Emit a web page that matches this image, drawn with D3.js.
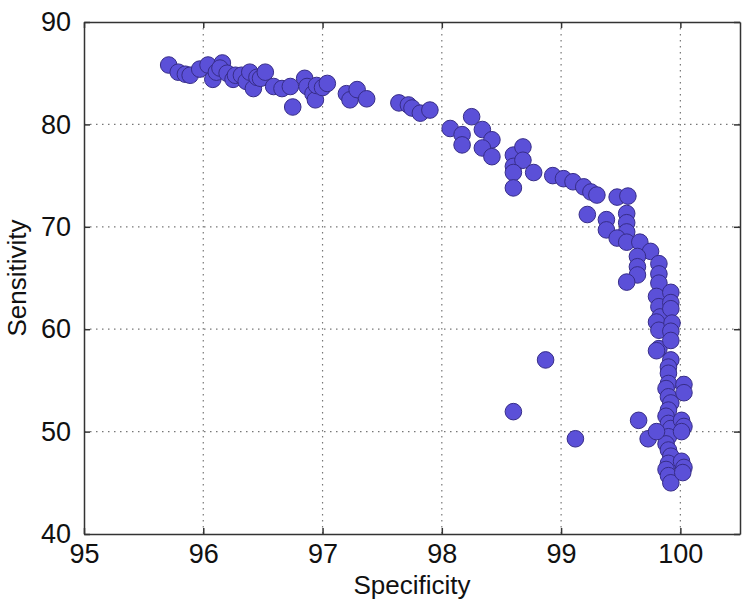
<!DOCTYPE html>
<html>
<head>
<meta charset="utf-8">
<script src="https://cdn.jsdelivr.net/npm/d3@7"></script>
<style>
  body { margin: 0; background: #fff; }
  text { font-family: "Liberation Sans", Arial, sans-serif; fill: #111; }
</style>
</head>
<body>
<svg id="chart"></svg>
<script>
// values
var specificity = [
  95.71, 95.79, 95.85, 95.89, 95.97, 96.04, 96.08, 96.11, 96.16, 96.14,
  96.20, 96.25, 96.27, 96.32, 96.36, 96.39, 96.42, 96.45, 96.48, 96.52,
  96.59, 96.66, 96.73, 96.75, 96.85, 96.87, 96.92, 96.94, 96.95, 97.00,
  97.04, 97.20, 97.23, 97.29, 97.37, 97.64, 97.72, 97.75, 97.82, 97.90,
  98.07, 98.17, 98.17, 98.25, 98.34, 98.42, 98.34, 98.42, 98.60, 98.68,
  98.60, 98.68, 98.60, 98.77, 98.60, 98.93, 99.02, 99.10, 99.19, 99.25,
  99.30, 99.22, 99.38, 99.38, 99.47, 99.56, 99.55, 99.55, 99.55, 99.47,
  99.55, 99.66, 99.75, 99.64, 99.64, 99.64, 99.55, 99.82, 99.82, 99.82,
  99.80, 99.82, 99.83, 99.80, 99.82, 99.82, 99.80, 99.92, 99.92, 99.92,
  99.93, 99.92, 99.92, 99.92, 99.90, 99.90, 99.90, 99.88, 99.90, 99.92,
  99.90, 99.88, 99.90, 99.92, 99.90, 99.88, 99.90, 99.92, 99.90, 99.88,
  99.90, 99.92, 100.03, 100.03, 100.01, 100.03, 100.01, 100.01, 100.03, 100.02,
  98.60, 98.87, 99.12, 99.65, 99.73, 99.80
];
var sensitivity = [
  85.8, 85.1, 84.9, 84.8, 85.4, 85.8, 84.4, 85.1, 86.0, 85.5,
  85.0, 84.4, 84.8, 84.8, 84.2, 85.1, 83.5, 84.6, 84.5, 85.1,
  83.7, 83.5, 83.7, 81.7, 84.5, 83.7, 83.0, 82.4, 83.8, 83.6,
  84.0, 83.0, 82.4, 83.4, 82.5, 82.1, 81.9, 81.6, 81.1, 81.4,
  79.6, 79.0, 78.0, 80.75, 79.5, 78.5, 77.7, 76.85, 77.0, 77.8,
  75.9, 76.5, 75.3, 75.3, 73.8, 75.0, 74.7, 74.4, 73.9, 73.4,
  73.1, 71.2, 70.7, 69.7, 72.9, 73.0, 71.3, 70.4, 69.5, 68.9,
  68.5, 68.5, 67.6, 67.1, 66.1, 65.3, 64.6, 66.4, 65.4, 64.5,
  63.2, 62.2, 61.2, 60.7, 59.9, 58.1, 57.9, 63.6, 62.6, 62.0,
  60.6, 59.8, 58.9, 57.0, 56.3, 55.7, 54.7, 54.2, 53.4, 52.8,
  52.1, 51.5, 50.8, 50.3, 49.5, 48.8, 48.2, 47.6, 46.9, 46.3,
  45.7, 45.0, 54.6, 53.8, 51.1, 50.5, 50.0, 47.1, 46.5, 46.0,
  51.95, 57.0, 49.3, 51.1, 49.3, 50.0
];
var xTicks = [95, 96, 97, 98, 99, 100];
var yTicks = [40, 50, 60, 70, 80, 90];

var width = 751, height = 614;
var margin = {top: 22, right: 11, bottom: 80, left: 84};
var w = width - margin.left - margin.right;
var h = height - margin.top - margin.bottom;

var svg = d3.select('#chart').attr('width', width).attr('height', height);
var g = svg.append('g').attr('transform', 'translate(' + margin.left + ',' + margin.top + ')');

var x = d3.scaleLinear().domain([95, 100.5]).range([0, w]);
var y = d3.scaleLinear().domain([40, 90]).range([h, 0]);

// dotted grid
g.selectAll('.vgrid').data(xTicks.slice(1)).enter().append('line')
  .attr('x1', d => x(d)).attr('x2', d => x(d)).attr('y1', 0).attr('y2', h)
  .attr('stroke', '#777').attr('stroke-width', 1.2).attr('stroke-dasharray', '1.5,4.5');
g.selectAll('.hgrid').data(yTicks.slice(1, -1)).enter().append('line')
  .attr('y1', d => y(d)).attr('y2', d => y(d)).attr('x1', 0).attr('x2', w)
  .attr('stroke', '#777').attr('stroke-width', 1.2).attr('stroke-dasharray', '1.5,4.5');

// points
var pts = specificity.map((s, i) => ({s: s, v: sensitivity[i]}));
g.selectAll('circle').data(pts).enter().append('circle')
  .attr('cx', d => x(d.s)).attr('cy', d => y(d.v)).attr('r', 8.3)
  .attr('fill', '#5b50d8').attr('stroke', '#372d88').attr('stroke-width', 1);

// axes, ticks inward on all four sides (box)
var tl = 6;
var fmt = d3.format('d');
g.append('g').attr('transform', 'translate(0,' + h + ')')
  .call(d3.axisBottom(x).tickValues(xTicks).tickFormat(fmt).tickSizeInner(-tl).tickSizeOuter(0).tickPadding(10));
g.append('g')
  .call(d3.axisTop(x).tickValues(xTicks).tickSizeInner(-tl).tickSizeOuter(0).tickFormat(''));
g.append('g')
  .call(d3.axisLeft(y).tickValues(yTicks).tickFormat(fmt).tickSizeInner(-tl).tickSizeOuter(0).tickPadding(13));
g.append('g').attr('transform', 'translate(' + w + ',0)')
  .call(d3.axisRight(y).tickValues(yTicks).tickSizeInner(-tl).tickSizeOuter(0).tickFormat(''));

g.selectAll('.domain').attr('stroke', '#333').attr('stroke-width', 1.5);
g.selectAll('.tick line').attr('stroke', '#333').attr('stroke-width', 1.5);
g.selectAll('.tick text').attr('font-size', 27).attr('font-family', '"Liberation Sans", Arial, sans-serif').attr('fill', '#111');

// axis labels
svg.append('text').attr('x', margin.left + w / 2).attr('y', 594)
  .attr('text-anchor', 'middle').attr('font-size', 26).text('Specificity');
svg.append('text').attr('transform', 'translate(26,' + (margin.top + h / 2) + ') rotate(-90)')
  .attr('text-anchor', 'middle').attr('font-size', 26).text('Sensitivity');
</script>
</body>
</html>
